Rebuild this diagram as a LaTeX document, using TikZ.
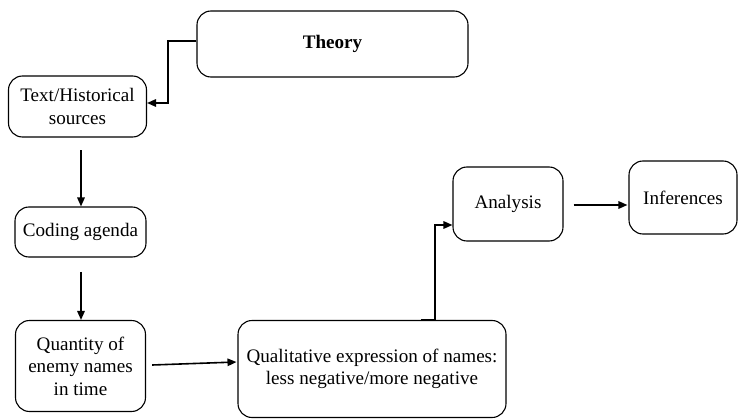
\documentclass[tikz,border=0pt]{standalone}
\usepackage{fontspec}
\setmainfont{Liberation Serif}
\usetikzlibrary{arrows.meta,calc}
\begin{document}
\begin{tikzpicture}[x=1pt,y=-1pt,
  box/.style={draw,line width=1.1pt,rounded corners=14pt,align=center,inner sep=0pt,
    font=\fontsize{19.1}{22.5}\selectfont},
  arr/.style={line width=1.6pt,-{Triangle[length=9pt,width=7.5pt]}}]
\useasboundingbox (0,0) rectangle (739,420);
\node[box,minimum width=271pt,minimum height=66pt] (theory) at (332.5,44) {\textbf{Theory}};
\node[box,minimum width=138pt,minimum height=61pt] (text) at (77.5,106.5) {Text/Historical\\sources};
\node[box,minimum width=131pt,minimum height=50pt] (coding) at (80.5,232) {Coding agenda};
\node[box,minimum width=130pt,minimum height=91pt] (quant) at (80.5,366) {Quantity of\\enemy names\\in time};
\node[box,minimum width=268pt,minimum height=97pt] (qual) at (372,369) {Qualitative expression of names:\\less negative/more negative};
\node[box,minimum width=110pt,minimum height=74pt] (analysis) at (508,204) {Analysis};
\node[box,minimum width=108pt,minimum height=73pt] (inf) at (683,197.5) {Inferences};
\coordinate (tk) at (168,41);
\draw[arr] ([yshift=3pt]theory.west) -- (tk) |- ([yshift=3.5pt]text.east);
\draw[arr] ([xshift=0.5pt,yshift=56pt]coding.north) -- ([xshift=0.5pt]coding.north);
\draw[arr] ([xshift=0.5pt,yshift=48pt]quant.north) -- ([xshift=0.5pt]quant.north);
\draw[arr] ([xshift=6pt,yshift=1pt]quant.east) -- ([xshift=-1pt,yshift=7pt]qual.west);
\coordinate (qk) at (421,320);
\draw[arr] (qk) -- (435,320) |- ([yshift=-21pt]analysis.west);
\draw[arr] ([xshift=10pt,yshift=-1pt]analysis.east) -- ([xshift=-1pt,yshift=-1pt]analysis.east -| inf.west);
\end{tikzpicture}
\end{document}
